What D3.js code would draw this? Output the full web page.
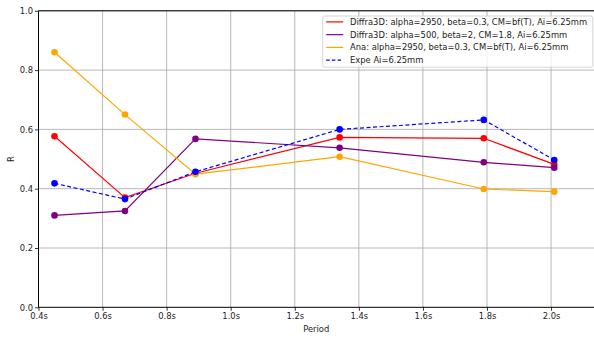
<!DOCTYPE html>
<html><head><meta charset="utf-8">
<script src="https://cdn.jsdelivr.net/npm/d3@7"></script>
<style>body{margin:0;background:#fff;}svg{display:block;font-family:"DejaVu Sans",sans-serif;}</style>
</head><body><svg id="c" width="594" height="340"></svg>
<script>
const periods = [0.45, 0.67, 0.89, 1.34, 1.79, 2.01];
const diffraA = [0.577, 0.370, 0.452, 0.573, 0.570, 0.482];
const diffraB = [0.310, 0.325, 0.568, 0.538, 0.489, 0.471];
const ana     = [0.860, 0.650, 0.449, 0.508, 0.399, 0.390];
const expe    = [0.418, 0.365, 0.457, 0.600, 0.632, 0.497];
const seriesNames = [
  "Diffra3D: alpha=2950, beta=0.3, CM=bf(T), Ai=6.25mm",
  "Diffra3D: alpha=500, beta=2, CM=1.8, Ai=6.25mm",
  "Ana: alpha=2950, beta=0.3, CM=bf(T), Ai=6.25mm",
  "Expe Ai=6.25mm"
];
const xTicks = [0.4,0.6,0.8,1.0,1.2,1.4,1.6,1.8,2.0];
const yTicks = [0,0.2,0.4,0.6,0.8,1.0];

const series = [
  {name: seriesNames[0], values: diffraA, color: "red", dash: null},
  {name: seriesNames[1], values: diffraB, color: "purple", dash: null},
  {name: seriesNames[2], values: ana, color: "orange", dash: null},
  {name: seriesNames[3], values: expe, color: "blue", dash: "4,2.5"}
];

const svg = d3.select("#c");
const L = 38.5, R = 594, T = 10.8, B = 307.3;
const FS = 8.4;

const x = d3.scaleLinear().domain([0.4, 2.135]).range([L, R + 0.3]);
const y = d3.scaleLinear().domain([0, 1]).range([B, T]);

// grid
const g = svg.append("g");
g.selectAll(".vg").data(xTicks.slice(1)).enter().append("line")
  .attr("x1", d=>x(d)).attr("x2", d=>x(d)).attr("y1", T).attr("y2", B)
  .attr("stroke", "#b0b0b0").attr("stroke-width", 0.9);
g.selectAll(".hg").data(yTicks.slice(1)).enter().append("line")
  .attr("x1", L).attr("x2", R).attr("y1", d=>y(d)).attr("y2", d=>y(d))
  .attr("stroke", "#b0b0b0").attr("stroke-width", 0.9);

// axes
const xAxis = d3.axisBottom(x).tickValues(xTicks).tickSize(3.5).tickPadding(2)
  .tickFormat(d => d3.format(".1f")(d) + "s");
const yAxis = d3.axisLeft(y).tickValues(yTicks).tickSize(3.5).tickPadding(2)
  .tickFormat(d3.format(".1f"));
const gx = svg.append("g").attr("transform", `translate(0,${B})`).call(xAxis);
const gy = svg.append("g").attr("transform", `translate(${L},0)`).call(yAxis);
[gx, gy].forEach(a => {
  a.select(".domain").remove();
  a.selectAll("text").attr("font-size", FS).attr("fill", "#222").attr("font-family", "DejaVu Sans");
  a.selectAll("line").attr("stroke", "#000").attr("stroke-width", 0.8);
});

// lines
const line = d3.line().x((d,i)=>x(periods[i])).y(d=>y(d));
series.forEach(s => {
  svg.append("path").attr("d", line(s.values)).attr("fill", "none")
    .attr("stroke", s.color).attr("stroke-width", 1.2)
    .attr("stroke-dasharray", s.dash);
  svg.selectAll(null).data(s.values).enter().append("circle")
    .attr("cx", (d,i)=>x(periods[i])).attr("cy", d=>y(d)).attr("r", 3.3)
    .attr("fill", s.color);
});

// spines
svg.append("line").attr("x1", L).attr("x2", L).attr("y1", T).attr("y2", B).attr("stroke","#000").attr("stroke-width",1);
svg.append("line").attr("x1", L).attr("x2", R).attr("y1", B).attr("y2", B).attr("stroke","#000").attr("stroke-width",1);
svg.append("line").attr("x1", L).attr("x2", R).attr("y1", T).attr("y2", T).attr("stroke","#000").attr("stroke-width",1);

// axis labels
svg.append("text").attr("x", (L+R)/2).attr("y", 331.5).attr("text-anchor","middle")
  .attr("font-size", FS).attr("font-family", "DejaVu Sans").attr("fill","#222").text("Period");
svg.append("text").attr("transform", `translate(13.5,${(T+B)/2}) rotate(-90)`).attr("text-anchor","middle")
  .attr("font-size", FS).attr("font-family", "DejaVu Sans").attr("fill","#222").text("R");

// legend
const lg = svg.append("g");
lg.append("rect").attr("x", 322.7).attr("y", 16).attr("width", 270.1).attr("height", 51.2)
  .attr("rx", 2).attr("fill", "#fff").attr("fill-opacity", 0.8).attr("stroke", "#ccc").attr("stroke-width", 0.8);
series.forEach((s, i) => {
  const yy = 21.9 + i * 12.75;
  lg.append("line").attr("x1", 326.2).attr("x2", 343.2).attr("y1", yy).attr("y2", yy)
    .attr("stroke", s.color).attr("stroke-width", 1.2).attr("stroke-dasharray", s.dash ? "3.5,2.2" : null);
  lg.append("text").attr("x", 350).attr("y", yy + 3).attr("font-size", FS).attr("font-family", "DejaVu Sans").attr("fill", "#222").text(s.name);
});
</script></body></html>
